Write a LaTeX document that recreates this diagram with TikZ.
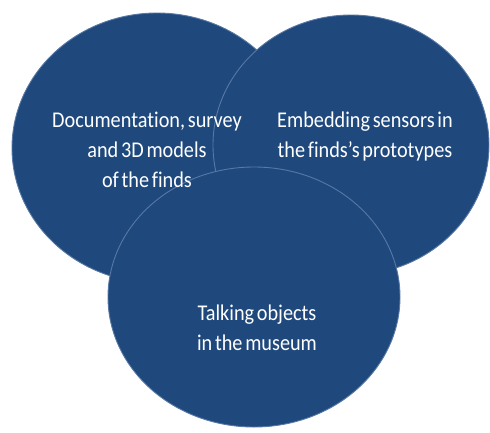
\documentclass[tikz,border=0pt]{standalone}
\usepackage{fontspec}
\setmainfont{Carlito}[Ligatures=NoCommon,FakeStretch=0.9,WordSpace=0.6]
\begin{document}
\begin{tikzpicture}[x=1pt,y=-1pt,
  disc/.style={fill=discblue,draw=discedge,line width=0.9pt},
  label/.style={text=white,align=center,font=\fontsize{22.5}{30}\selectfont,inner sep=0pt}]
\definecolor{discblue}{RGB}{31,73,125}
\definecolor{discedge}{RGB}{88,120,165}
\useasboundingbox (0,0) rectangle (490,432);
% three overlapping discs, drawn back to front
\path[disc] (157,148) ellipse [x radius=145, y radius=135];
\path[disc] (351,145) ellipse [x radius=138, y radius=130];
\path[disc] (254,297) ellipse [x radius=146, y radius=130];
% captions
\node[label] (doc) at (147,150) {Documentation, survey\\and 3D models\\of the finds};
\node[label] (sens) at (365,136) {Embedding sensors in\\the finds’s prototypes};
\node[label] (talk) at (257,328) {Talking objects\\in the museum};
\end{tikzpicture}
\end{document}
